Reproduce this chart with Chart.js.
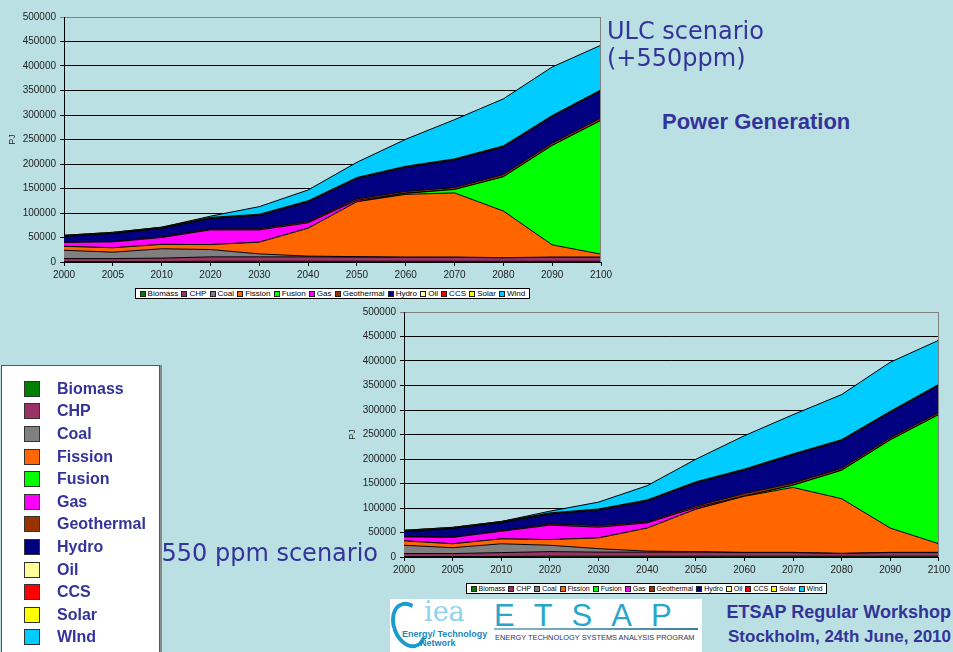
<!DOCTYPE html>
<html><head><meta charset="utf-8">
<script src="https://cdn.jsdelivr.net/npm/chart.js@4.4.0/dist/chart.umd.min.js"></script>
<style>
html,body{margin:0;padding:0;}
body{width:953px;height:652px;background:#BBE0E3;position:relative;overflow:hidden;font-family:"Liberation Sans",Arial,sans-serif;}
canvas{position:absolute;}
.abs{position:absolute;white-space:nowrap;}
.blue{color:#333399;}
.slegend{position:absolute;background:#fff;border:1px solid #000;box-sizing:border-box;display:flex;justify-content:space-around;align-items:center;padding:0 2px;color:#000;}
.slegend span{display:flex;align-items:center;}
.slegend i{display:inline-block;border:1px solid #222;box-sizing:border-box;margin-right:2px;}
#bigleg{position:absolute;left:1px;top:365px;width:159px;height:300px;background:#fff;border:1px solid #555;box-shadow:2px 0 0 #888;box-sizing:border-box;}
.bl-sq{position:absolute;left:22px;width:16px;height:16px;border:1px solid #333;box-sizing:border-box;}
.bl-tx{position:absolute;left:55px;font-weight:bold;font-size:16px;line-height:16px;color:#333399;}
</style></head><body>
<canvas id="c1" width="620" height="290" style="left:0;top:0"></canvas>
<canvas id="c2" width="613" height="280" style="left:340px;top:300px"></canvas>

<div id="leg1" class="slegend" style="left:135px;top:288px;width:395px;height:11px;font-size:8px;"></div>
<div id="leg2" class="slegend" style="left:466px;top:583px;width:361px;height:11px;font-size:7px;"></div>

<div class="abs blue" style="left:607px;top:17.5px;font-family:'DejaVu Sans';font-size:24px;line-height:27px;">ULC scenario<br>(+550ppm)</div>
<div class="abs blue" style="left:662px;top:110.7px;font-weight:bold;font-size:22px;line-height:22px;">Power Generation</div>
<div class="abs blue" style="left:161.5px;top:541.4px;font-family:'DejaVu Sans';font-size:24px;line-height:24px;">550 ppm scenario</div>

<div id="bigleg"></div>

<div class="abs" style="left:390px;top:599px;width:312px;height:60px;background:#fff;">
  <div class="abs" style="left:2px;top:2px;width:26px;height:40px;border:4px solid #1a9ccc;border-right-color:transparent;border-radius:50%;transform:rotate(-20deg);"></div>
  <div class="abs" style="left:34px;top:-2px;font-family:'DejaVu Serif';font-size:27px;line-height:30px;color:#8fd2ee;">iea</div>
  <div class="abs" style="left:12px;top:31px;font-weight:bold;font-size:9px;line-height:9px;color:#1a86c0;">Energy/ Technology</div>
  <div class="abs" style="left:30px;top:40px;font-weight:bold;font-size:9px;line-height:9px;color:#1a86c0;">Network</div>
  <div class="abs" style="left:104px;top:1px;font-size:31px;line-height:31px;letter-spacing:19px;color:#2aa6c8;">ETSAP</div>
  <div class="abs" style="left:104px;top:29px;width:204px;height:2px;background:linear-gradient(90deg,#8ab8c8,#3a7fa0);"></div>
  <div class="abs" style="left:105px;top:35px;font-size:7.4px;line-height:8px;color:#335;">ENERGY TECHNOLOGY SYSTEMS ANALYSIS PROGRAM</div>
</div>
<div class="abs blue" style="right:2px;top:602.8px;font-weight:bold;font-size:18px;line-height:18px;">ETSAP Regular Workshop</div>
<div class="abs blue" style="right:2px;top:627.6px;font-weight:bold;font-size:17px;line-height:17px;">Stockholm, 24th June, 2010</div>

<script>
// ---- data ----
const years = ['2000','2005','2010','2020','2030','2040','2050','2060','2070','2080','2090','2100'];
const seriesNames = ['Biomass','CHP','Coal','Fission','Fusion','Gas','Geothermal','Hydro','Oil','CCS','Solar','Wind'];
const bigLegendNames = ['Biomass','CHP','Coal','Fission','Fusion','Gas','Geothermal','Hydro','Oil','CCS','Solar','WInd'];
const seriesColors = ['#008000','#993366','#808080','#FF6600','#00FF00','#FF00FF','#993300','#000080','#FFFF99','#FF0000','#FFFF00','#00CCFF'];

// ULC scenario (+550ppm), PJ
const biomassULC = [1000,1000,1000,1500,1500,1500,1500,1500,1500,1500,1500,1500];
const chpULC     = [6000,6000,7000,9000,9000,9000,8500,8000,8000,7000,8000,8000];
const coalULC    = [17000,13000,19000,15000,6000,1500,1000,500,500,500,500,500];
const fissionULC = [8000,9000,9000,10000,24000,57000,112000,128000,131000,95000,25000,6000];
const fusionULC  = [0,0,0,0,0,0,0,2000,7000,70000,203000,273000];
const gasULC     = [8000,12000,14000,30000,25000,11000,3000,500,0,0,0,0];
const geoULC     = [1000,1000,1500,2000,2500,2500,3000,3500,4000,4500,4500,5000];
const hydroULC   = [11000,16000,17000,21000,27000,40000,41000,49000,56000,56000,54000,55000];
const oilULC     = [500,500,500,500,500,500,500,500,500,500,500,500];
const ccsULC     = [500,500,500,500,500,500,500,500,500,500,500,500];
const solarULC   = [1500,1500,1500,1500,1500,1500,1500,1500,1500,1500,1500,1500];
const windULC    = [0,0,0,2500,15500,22000,31000,55000,80000,96000,99000,91000];

// 550 ppm scenario, PJ
const biomass550 = [1000,1000,1000,1500,1500,1500,1500,1500,1500,1500,1500,1500];
const chp550     = [6000,6000,8000,9500,8500,8500,8500,7500,7500,5500,7500,7500];
const coal550    = [17000,12000,18000,13000,7000,2000,1000,500,500,500,500,500];
const fission550 = [9000,8000,10000,11500,22000,47000,86500,114500,132500,111500,49500,17500];
const fusion550  = [0,0,0,0,0,0,0,0,4500,58000,180000,264000];
const gas550     = [8000,13000,15500,29500,22000,10500,3500,500,0,0,0,0];
const geo550     = [1000,1000,1500,2500,3000,2000,3000,5000,4500,4000,4000,4000];
const hydro550   = [10000,17000,16000,20000,31500,42500,47000,47500,57000,56000,52000,55000];
const oil550     = [500,500,500,500,500,500,500,500,500,500,500,500];
const ccs550     = [500,500,500,500,500,500,500,500,500,500,500,500];
const solar550   = [1500,1500,1500,1500,1500,1500,1500,1500,1500,1500,1500,1500];
const wind550    = [0,0,0,3500,14000,29000,46000,68000,80000,92000,100000,90000];

const yMin = 0, yMax = 500000, yStep = 50000;
const yTitle = 'PJ';

// ---- charts ----
Chart.defaults.font.family = '"Liberation Sans", Arial, sans-serif';
Chart.defaults.color = '#222';

const framePlugin = {
  id: 'frame',
  afterDatasetsDraw(chart) {
    const {ctx, chartArea: a} = chart;
    ctx.save();
    ctx.strokeStyle = '#808080';
    ctx.lineWidth = 1;
    ctx.beginPath();
    const x = Math.round(a.right) - 0.5;
    ctx.moveTo(x, Math.round(a.top) + 0.5);
    ctx.lineTo(x, Math.round(a.bottom));
    ctx.stroke();
    ctx.restore();
  }
};

function makeChart(id, data, pad) {
  const datasets = seriesNames.map((n, i) => ({
    label: n,
    data: data[i],
    backgroundColor: seriesColors[i],
    borderColor: '#000',
    borderWidth: 1,
    fill: i === 0 ? 'origin' : '-1',
    pointRadius: 0,
    tension: 0
  }));
  return new Chart(document.getElementById(id), {
    type: 'line',
    data: { labels: years, datasets },
    options: {
      responsive: false,
      animation: false,
      layout: { padding: pad },
      plugins: { legend: { display: false }, tooltip: { enabled: false } },
      elements: { line: { borderJoinStyle: 'miter' } },
      scales: {
        x: {
          offset: false,
          grid: { drawOnChartArea: false, drawTicks: true, tickLength: 4, color: '#000' },
          border: { display: true, color: '#000', width: 1 },
          ticks: { font: { size: 10 }, padding: 3, maxRotation: 0, autoSkip: false },
          afterFit(s) { s.height = 20; }
        },
        y: {
          stacked: true,
          min: yMin, max: yMax,
          grid: {
            color: c => (c.tick && c.tick.value === yMax) ? '#808080' : '#000',
            tickLength: 4, drawTicks: true
          },
          border: { display: true, color: '#000', width: 1 },
          ticks: { stepSize: yStep, font: { size: 10 }, padding: 4, callback: v => String(v) },
          title: { display: true, text: yTitle, font: { size: 9 }, padding: { top: 7, bottom: 0 }, color: '#222' },
          afterFit(s) { s.width = 64; }
        }
      }
    },
    plugins: [framePlugin]
  });
}

makeChart('c1', [biomassULC, chpULC, coalULC, fissionULC, fusionULC, gasULC, geoULC, hydroULC, oilULC, ccsULC, solarULC, windULC],
  { top: 17, left: 0, right: 19, bottom: 8 });
makeChart('c2', [biomass550, chp550, coal550, fission550, fusion550, gas550, geo550, hydro550, oil550, ccs550, solar550, wind550],
  { top: 12, left: 0, right: 12, bottom: 3 });

// ---- legends ----
function smallLegend(id, sz) {
  const el = document.getElementById(id);
  seriesNames.forEach((n, i) => {
    const s = document.createElement('span');
    const b = document.createElement('i');
    b.style.width = sz + 'px'; b.style.height = sz + 'px';
    b.style.background = seriesColors[i];
    s.appendChild(b);
    s.appendChild(document.createTextNode(n));
    el.appendChild(s);
  });
}
smallLegend('leg1', 6);
smallLegend('leg2', 6);

const big = document.getElementById('bigleg');
bigLegendNames.forEach((n, i) => {
  const top = 380.7 - 365 - 1 + i * 22.6;
  const sq = document.createElement('div');
  sq.className = 'bl-sq'; sq.style.top = top + 'px'; sq.style.background = seriesColors[i];
  const tx = document.createElement('div');
  tx.className = 'bl-tx'; tx.style.top = top + 'px'; tx.textContent = n;
  big.appendChild(sq); big.appendChild(tx);
});
</script>
</body></html>
